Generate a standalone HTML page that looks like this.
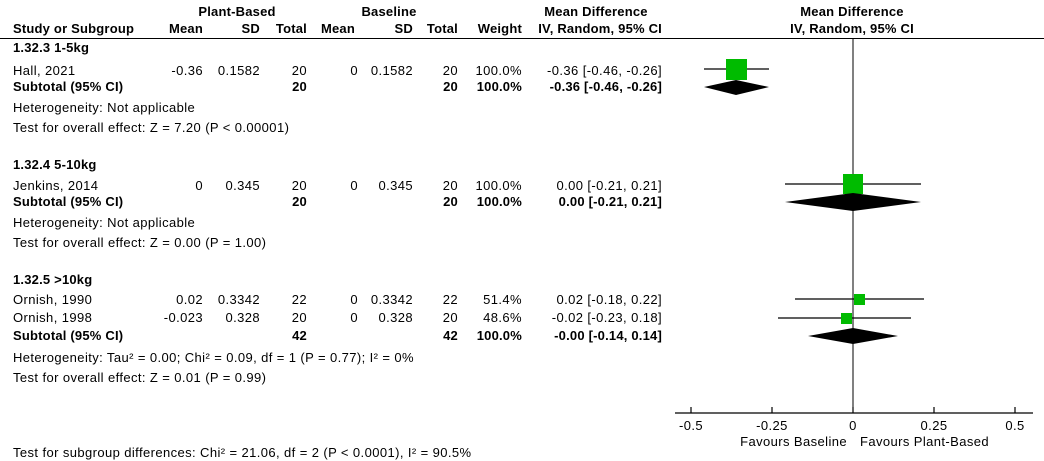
<!DOCTYPE html>
<html><head><meta charset="utf-8"><style>
body{margin:0;width:1044px;height:461px;background:#fff;position:relative;overflow:hidden;font-family:"Liberation Sans",Arial,sans-serif;font-size:13px;letter-spacing:0.4px;color:#000}
.t{position:absolute;line-height:14px;white-space:nowrap}
.b{font-weight:bold;letter-spacing:0.2px}
.r{text-align:right}
.c{text-align:center}
</style></head><body>
<div class="t b c" style="left:157px;width:160px;top:5px">Plant-Based</div>
<div class="t b c" style="left:310px;width:158px;top:5px">Baseline</div>
<div class="t b c" style="left:516px;width:160px;top:5px">Mean Difference</div>
<div class="t b c" style="left:772px;width:160px;top:5px">Mean Difference</div>
<div class="t b" style="left:13px;top:22px">Study or Subgroup</div>
<div class="t b r" style="left:140px;width:63px;top:22px">Mean</div>
<div class="t b r" style="left:200px;width:60px;top:22px">SD</div>
<div class="t b r" style="left:250px;width:57px;top:22px">Total</div>
<div class="t b r" style="left:300px;width:55px;top:22px">Mean</div>
<div class="t b r" style="left:360px;width:53px;top:22px">SD</div>
<div class="t b r" style="left:400px;width:58px;top:22px">Total</div>
<div class="t b r" style="left:460px;width:62px;top:22px">Weight</div>
<div class="t b r" style="left:500px;width:162px;top:22px">IV, Random, 95% CI</div>
<div class="t b c" style="left:762px;width:180px;top:22px">IV, Random, 95% CI</div>

<div style="position:absolute;left:0;top:38px;width:1044px;height:1px;background:#000"></div>

<div class="t b" style="left:13px;top:41px">1.32.3 1-5kg</div>
<div class="t" style="left:13px;top:64px">Hall, 2021</div>
<div class="t r" style="left:140px;width:63px;top:64px">-0.36</div>
<div class="t r" style="left:200px;width:60px;top:64px">0.1582</div>
<div class="t r" style="left:250px;width:57px;top:64px">20</div>
<div class="t r" style="left:300px;width:58px;top:64px">0</div>
<div class="t r" style="left:350px;width:63px;top:64px">0.1582</div>
<div class="t r" style="left:400px;width:58px;top:64px">20</div>
<div class="t r" style="left:460px;width:62px;top:64px">100.0%</div>
<div class="t r" style="left:500px;width:162px;top:64px">-0.36 [-0.46, -0.26]</div>
<div class="t b" style="left:13px;top:80px">Subtotal (95% CI)</div>
<div class="t b r" style="left:250px;width:57px;top:80px">20</div>
<div class="t b r" style="left:400px;width:58px;top:80px">20</div>
<div class="t b r" style="left:460px;width:62px;top:80px">100.0%</div>
<div class="t b r" style="left:500px;width:162px;top:80px">-0.36 [-0.46, -0.26]</div>
<div class="t" style="left:13px;top:101px">Heterogeneity: Not applicable</div>
<div class="t" style="left:13px;top:121px">Test for overall effect: Z = 7.20 (P &lt; 0.00001)</div>

<div class="t b" style="left:13px;top:158px">1.32.4 5-10kg</div>
<div class="t" style="left:13px;top:179px">Jenkins, 2014</div>
<div class="t r" style="left:140px;width:63px;top:179px">0</div>
<div class="t r" style="left:200px;width:60px;top:179px">0.345</div>
<div class="t r" style="left:250px;width:57px;top:179px">20</div>
<div class="t r" style="left:300px;width:58px;top:179px">0</div>
<div class="t r" style="left:350px;width:63px;top:179px">0.345</div>
<div class="t r" style="left:400px;width:58px;top:179px">20</div>
<div class="t r" style="left:460px;width:62px;top:179px">100.0%</div>
<div class="t r" style="left:500px;width:162px;top:179px">0.00 [-0.21, 0.21]</div>
<div class="t b" style="left:13px;top:195px">Subtotal (95% CI)</div>
<div class="t b r" style="left:250px;width:57px;top:195px">20</div>
<div class="t b r" style="left:400px;width:58px;top:195px">20</div>
<div class="t b r" style="left:460px;width:62px;top:195px">100.0%</div>
<div class="t b r" style="left:500px;width:162px;top:195px">0.00 [-0.21, 0.21]</div>
<div class="t" style="left:13px;top:216px">Heterogeneity: Not applicable</div>
<div class="t" style="left:13px;top:236px">Test for overall effect: Z = 0.00 (P = 1.00)</div>

<div class="t b" style="left:13px;top:273px">1.32.5 &gt;10kg</div>
<div class="t" style="left:13px;top:293px">Ornish, 1990</div>
<div class="t r" style="left:140px;width:63px;top:293px">0.02</div>
<div class="t r" style="left:200px;width:60px;top:293px">0.3342</div>
<div class="t r" style="left:250px;width:57px;top:293px">22</div>
<div class="t r" style="left:300px;width:58px;top:293px">0</div>
<div class="t r" style="left:350px;width:63px;top:293px">0.3342</div>
<div class="t r" style="left:400px;width:58px;top:293px">22</div>
<div class="t r" style="left:460px;width:62px;top:293px">51.4%</div>
<div class="t r" style="left:500px;width:162px;top:293px">0.02 [-0.18, 0.22]</div>
<div class="t" style="left:13px;top:311px">Ornish, 1998</div>
<div class="t r" style="left:140px;width:63px;top:311px">-0.023</div>
<div class="t r" style="left:200px;width:60px;top:311px">0.328</div>
<div class="t r" style="left:250px;width:57px;top:311px">20</div>
<div class="t r" style="left:300px;width:58px;top:311px">0</div>
<div class="t r" style="left:350px;width:63px;top:311px">0.328</div>
<div class="t r" style="left:400px;width:58px;top:311px">20</div>
<div class="t r" style="left:460px;width:62px;top:311px">48.6%</div>
<div class="t r" style="left:500px;width:162px;top:311px">-0.02 [-0.23, 0.18]</div>
<div class="t b" style="left:13px;top:329px">Subtotal (95% CI)</div>
<div class="t b r" style="left:250px;width:57px;top:329px">42</div>
<div class="t b r" style="left:400px;width:58px;top:329px">42</div>
<div class="t b r" style="left:460px;width:62px;top:329px">100.0%</div>
<div class="t b r" style="left:500px;width:162px;top:329px">-0.00 [-0.14, 0.14]</div>
<div class="t" style="left:13px;top:351px">Heterogeneity: Tau² = 0.00; Chi² = 0.09, df = 1 (P = 0.77); I² = 0%</div>
<div class="t" style="left:13px;top:371px">Test for overall effect: Z = 0.01 (P = 0.99)</div>

<div class="t" style="left:13px;top:446px">Test for subgroup differences: Chi² = 21.06, df = 2 (P &lt; 0.0001), I² = 90.5%</div>

<svg style="position:absolute;left:0;top:0" width="1044" height="461">
<line x1="853" y1="39" x2="853" y2="413" stroke="#000" stroke-width="1"/>
<line x1="675" y1="413" x2="1033" y2="413" stroke="#000" stroke-width="1.2"/>
<g stroke="#000" stroke-width="1.2">
<line x1="691" y1="407" x2="691" y2="413"/><line x1="772" y1="407" x2="772" y2="413"/>
<line x1="853" y1="407" x2="853" y2="413"/><line x1="934" y1="407" x2="934" y2="413"/>
<line x1="1015" y1="407" x2="1015" y2="413"/>
<line x1="704" y1="69" x2="769" y2="69"/>
<line x1="785" y1="184" x2="921" y2="184"/>
<line x1="795" y1="299" x2="924" y2="299"/>
<line x1="778" y1="318" x2="911" y2="318"/>
</g>
<rect x="726" y="59" width="21" height="21" fill="#00bb00"/>
<rect x="843" y="174" width="20" height="20" fill="#00bb00"/>
<rect x="854" y="294" width="11" height="11" fill="#00bb00"/>
<rect x="841" y="313" width="11" height="11" fill="#00bb00"/>
<polygon points="704,87 736,80 769,87 736,95" fill="#000"/>
<polygon points="785,202 853,193 921,202 853,211" fill="#000"/>
<polygon points="808,336 853,328 898,336 853,344" fill="#000"/>
</svg>
<div class="t c" style="left:661px;width:60px;top:419px">-0.5</div>
<div class="t c" style="left:742px;width:60px;top:419px">-0.25</div>
<div class="t c" style="left:823px;width:60px;top:419px">0</div>
<div class="t c" style="left:904px;width:60px;top:419px">0.25</div>
<div class="t c" style="left:985px;width:60px;top:419px">0.5</div>
<div class="t r" style="left:690px;width:157px;top:435px">Favours Baseline</div>
<div class="t" style="left:860px;top:435px">Favours Plant-Based</div>
</body></html>
